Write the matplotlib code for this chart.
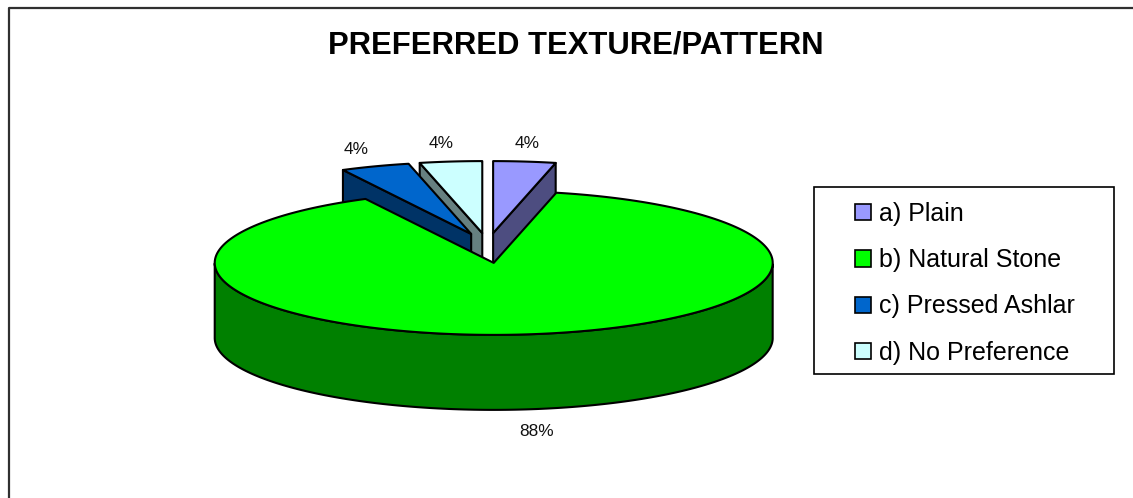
import numpy as np
import matplotlib
matplotlib.use("Agg")
import matplotlib.pyplot as plt
from matplotlib.patches import Polygon, Patch, Rectangle

plt.rcParams['font.family'] = ['Liberation Sans', 'DejaVu Sans']

categories = ["a) Plain", "b) Natural Stone", "c) Pressed Ashlar", "d) No Preference"]
# slice sizes as they measure on the picture, the labels are what the chart prints
shares = [3.6, 88.8, 4.0, 3.6]
pct_labels = ["4%", "88%", "4%", "4%"]
top_colors = ["#9999ff", "#00ff00", "#0066cc", "#ccffff"]
side_colors = ["#4d4d80", "#008000", "#003366", "#668080"]

# pie geometry in pixels
CX, CY = 487.7, 248
RX, RY = 279, 72
DEPTH = 75
EXPLODE_X, EXPLODE_Y = 48, 15
SAMPLES = 300


def slice_points(start, end, n=SAMPLES):
    #angles in degrees, clockwise from 12 o'clock
    mid = np.radians((start + end) / 2)
    ox = CX + EXPLODE_X * np.sin(mid)
    oy = CY - EXPLODE_Y * np.cos(mid)
    t = np.radians(np.linspace(start, end, n))
    return t, ox, oy, ox + RX * np.sin(t), oy - RY * np.cos(t)


def draw_slice(ax, i, start, end):
    t, ox, oy, xs, ys = slice_points(start, end)
    outline = dict(edgecolor="black", linewidth=1.5, joinstyle="round")

    # radial wall, only the one facing us on the small back slices
    if i != 1:
        k = 0 if ys[0] > ys[-1] else -1
        wall = [(ox, oy), (xs[k], ys[k]), (xs[k], ys[k] + DEPTH), (ox, oy + DEPTH)]
        ax.add_patch(Polygon(wall, closed=True, facecolor=side_colors[i], **outline))

    # outer wall, front half only
    front = (t > np.pi / 2) & (t < 3 * np.pi / 2)
    if front.any():
        fx, fy = xs[front], ys[front]
        wall = np.r_[np.c_[fx, fy], np.c_[fx[::-1], fy[::-1] + DEPTH]]
        ax.add_patch(Polygon(wall, closed=True, facecolor=side_colors[i], **outline))

    top = np.r_[[[ox, oy]], np.c_[xs, ys]]
    ax.add_patch(Polygon(top, closed=True, facecolor=top_colors[i], **outline))


fig = plt.figure(figsize=(11.33, 4.98), dpi=100)
ax = fig.add_axes([0, 0, 1, 1])
ax.set_xlim(0, 1133)
ax.set_ylim(498, 0)
ax.axis("off")

# only left and top of the chart border are in the crop
ax.plot([9, 9, 1133], [498, 8, 8], color="#303030", lw=1.6)

ax.text(576, 53.5, "PREFERRED TEXTURE/PATTERN", ha="center", va="baseline",
        fontsize=22.35, fontweight="bold", color="black")

# angle limits of each slice from the shares
edges = np.cumsum([0] + shares) / sum(shares) * 360
# back slices first, the big one on top of them
for i in [3, 2, 0, 1]:
    draw_slice(ax, i, edges[i], edges[i + 1])

label_pos = [(527.5, 143), (537, 431), (356, 149), (441, 143)]
for lab, (x, y) in zip(pct_labels, label_pos):
    ax.text(x, y, lab, ha="center", va="center", fontsize=12.4, color="#111111")

# legend box drawn apart, its padding is not the same in x and y
ax.add_patch(Rectangle((814, 187), 300, 187, facecolor="white", edgecolor="black", linewidth=1.2, zorder=3))
handles = [Patch(facecolor=c, edgecolor="black", linewidth=1.2) for c in top_colors]
leg = ax.legend(handles, categories, loc="upper left",
                bbox_to_anchor=(855 / 1133, 1 - 202 / 498), bbox_transform=fig.transFigure,
                fontsize=18, frameon=False, borderaxespad=0, handlelength=0.62, handleheight=0.62,
                handletextpad=0.33, labelspacing=0.89, borderpad=0)
leg.set_zorder(4)

fig.savefig("out.png", dpi=100)
